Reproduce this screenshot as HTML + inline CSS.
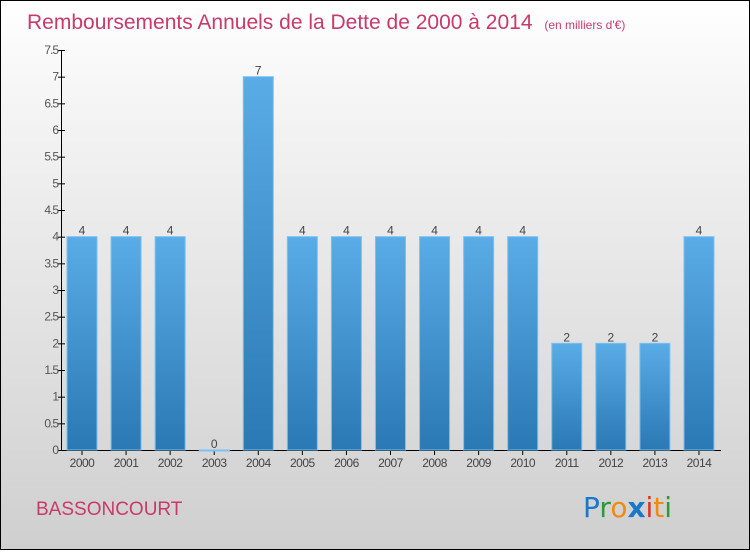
<!DOCTYPE html>
<html><head><meta charset="utf-8"><style>
body{margin:0;width:750px;height:550px;overflow:hidden;font-family:"Liberation Sans",sans-serif}
#wrap{position:absolute;left:0;top:0;width:748px;height:548px;border:1px solid #000;background:linear-gradient(#fff,#f4f4f4 20%,#cfcfcf)}
</style></head><body>
<div id="wrap">
<svg width="748" height="548" id="svg">
<defs><linearGradient id="bg" x1="0" y1="0" x2="0" y2="1"><stop offset="0" stop-color="#5aace6"/><stop offset="1" stop-color="#2a78b4"/></linearGradient></defs>
<text x="26" y="28" font-size="21" fill="#c83a6a">Remboursements Annuels de la Dette de 2000 à 2014 <tspan font-size="12" dx="6">(en milliers d'€)</tspan></text>
<text x="35" y="514" font-size="19" fill="#c83a6a">BASSONCOURT</text>
<g font-size="28" font-family="DejaVu Sans, sans-serif">
<text x="582" y="516"><tspan fill="#1a78c8">P</tspan><tspan fill="#2a9a3a">r</tspan><tspan fill="#f08a10">o</tspan><tspan fill="#1a78c8" font-weight="bold">x</tspan><tspan fill="#e03020">i</tspan><tspan fill="#f08a10">t</tspan><tspan fill="#2a9a3a">i</tspan></text></g>
<g id="ax"></g><g id="bars"></g>
</svg></div>
<script>
const years=["2000","2001","2002","2003","2004","2005","2006","2007","2008","2009","2010","2011","2012","2013","2014"];
const values=[4,4,4,0,7,4,4,4,4,4,4,2,2,2,4];
const ticks=[0,0.5,1,1.5,2,2.5,3,3.5,4,4.5,5,5.5,6,6.5,7,7.5];
const NS="http://www.w3.org/2000/svg";
const y=v=>449-v*(400/7.5);
const x=i=>81+i*44.07;
function mk(t,a,p){const e=document.createElementNS(NS,t);for(const k in a)e.setAttribute(k,a[k]);p.appendChild(e);return e;}
const ax=document.getElementById('ax'),bars=document.getElementById('bars');
let l=mk('line',{x1:60.5,y1:y(7.5),x2:60.5,y2:449.5,stroke:'#000'},ax);


l=mk('line',{x1:60,y1:449.5,x2:720,y2:449.5,stroke:'#000'},ax);


ticks.forEach(t=>{
 mk('line',{x1:57,x2:64,y1:y(t)+.5,y2:y(t)+.5,stroke:'#000'},ax);
 const e=mk('text',{x:57,y:y(t)+4,'text-anchor':'end','font-size':12,fill:'#555','letter-spacing':'-1'},ax);
 e.textContent=String(t);
 
 
});
years.forEach((yr,i)=>{
 mk('line',{x1:x(i),x2:x(i),y1:449,y2:454,stroke:'#000'},ax);
 const e=mk('text',{x:x(i),y:466,'text-anchor':'middle','font-size':12,fill:'#444','letter-spacing':'-0.5'},ax);
 e.textContent=yr;
 
 
 const v=values[i];
 const r=mk('rect',{x:x(i)-15,y:y(v),width:30,height:Math.max(449-y(v),1),fill:'url(#bg)',stroke:'#7cc0f0','stroke-width':1},bars);
 
 
 const t=mk('text',{x:x(i),y:y(v)-2,'text-anchor':'middle','font-size':12,fill:'#444'},bars);
 t.textContent=String(v);
 
 
});
</script>
</body></html>
